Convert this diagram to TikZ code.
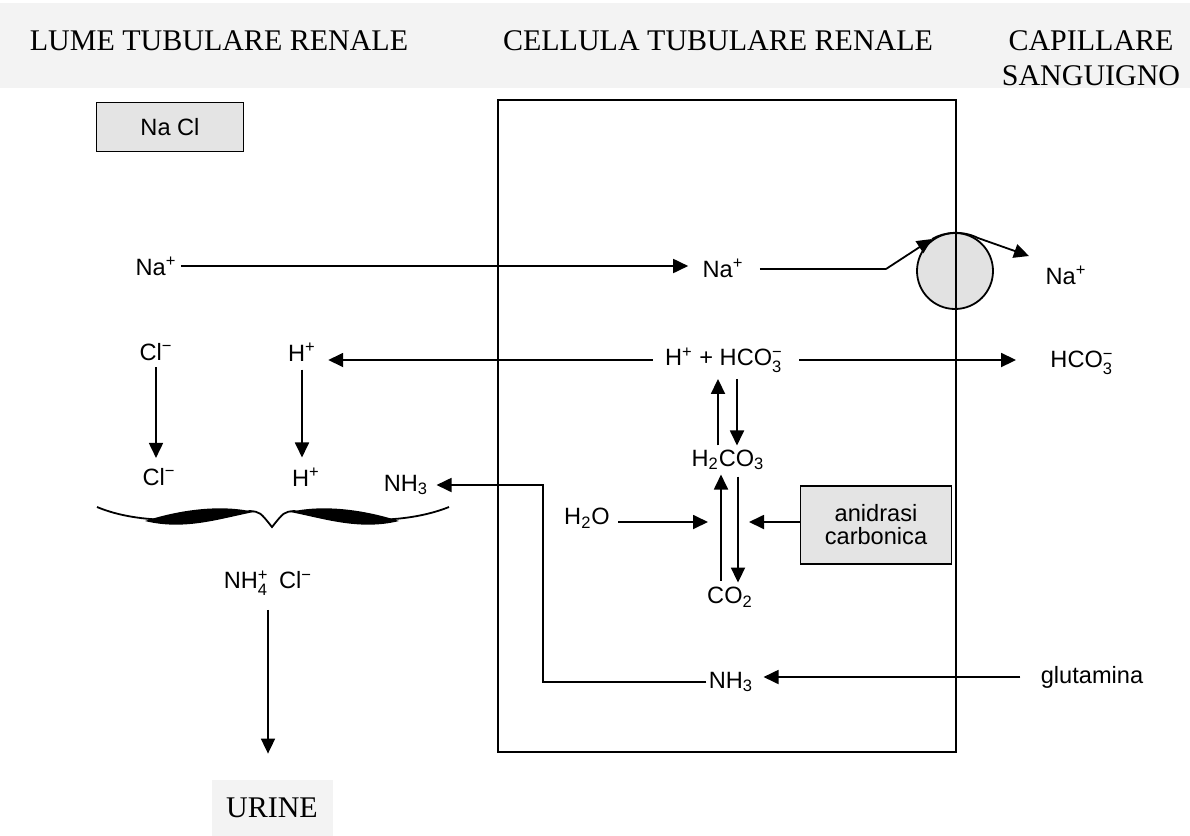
\documentclass[tikz,border=0pt]{standalone}
\usepackage{fontspec}
\usepackage{amsmath}
\usepackage{tikz}
\usetikzlibrary{arrows.meta,positioning,calc}
\setmainfont{Liberation Sans}
\newfontfamily\headfont{Liberation Serif}
\definecolor{bandGray}{RGB}{243,243,243}
\definecolor{boxGray}{RGB}{228,228,228}
\definecolor{pumpGray}{RGB}{226,226,226}
\newcommand{\lo}[1]{\textsubscript{#1}}
\newcommand{\hi}[1]{\textsuperscript{#1}}
\newcommand{\lohi}[2]{\ensuremath{{}_{\text{#1}}^{\text{#2}}}}
\newcommand{\mn}{\char"2212}

\begin{document}
\begin{tikzpicture}[x=0.5pt,y=-0.5pt,
  lab/.style={font=\fontsize{11.8}{13.5}\selectfont, inner sep=1pt},
  head/.style={font=\headfont\fontsize{15}{18}\selectfont, inner sep=0pt, anchor=base},
  graybox/.style={lab, draw, line width=0.9pt, fill=boxGray, align=center},
  flow/.style={line width=0.9pt, -{Triangle[length=7.5pt,width=7pt]}},
  wire/.style={line width=0.9pt}]
\useasboundingbox (0,0) rectangle (1190,836);
\fill[bandGray] (0,3) rectangle (1190,88);
\node[head] (hlumen) at (219,50) {LUME TUBULARE RENALE};
\node[head] (hcell) at (718,50) {CELLULA TUBULARE RENALE};
\node[head] (hcap) at (1091,50) {CAPILLARE};
\node[head] (hcap2) at (1091,85) {SANGUIGNO};
\node[head, anchor=center, fill=bandGray, minimum width=60.5pt, minimum height=28pt] (urine) at (272,808) {URINE};
\node[draw, circle, fill=pumpGray, line width=0.9pt, minimum size=38pt, inner sep=0pt] (pump) at (955,271) {};
\draw[line width=1pt] (498,100) rectangle (956,752);
\node[graybox, minimum width=73.5pt, minimum height=24.5pt] (nacl) at (170,127) {Na Cl};
\node[graybox, minimum width=75.5pt, minimum height=39pt, inner sep=0pt] (carb) at (876,525) {anidrasi\\[-2pt]carbonica};
\node[lab] (naL) at (156,266) {Na\hi{+}};
\node[lab] (naC) at (723,268) {Na\hi{+}};
\node[lab] (naB) at (1066,275) {Na\hi{+}};
\node[lab] (clL) at (156,352) {Cl\hi{\mn}};
\node[lab] (hL) at (302,352) {H\hi{+}};
\node[lab] (hco) at (725,360) {H\hi{+} + HCO\lohi{3}{\mn}\kern1pt};
\node[lab] (hcoB) at (1083,363) {HCO\lohi{3}{\mn}\kern1pt};
\node[lab] (clL2) at (159,477) {Cl\hi{\mn}};
\node[lab] (hL2) at (306,477) {H\hi{+}};
\node[lab] (nhL) at (406,485) {NH\lo{3}};
\node[lab] (h2co3) at (728,460) {H\lo{2}CO\lo{3}};
\node[lab] (h2o) at (587,518) {H\lo{2}O};
\node[lab] (co2) at (730,597) {CO\lo{2}};
\node[lab] (nhC) at (731,682) {NH\lo{3}};
\node[lab] (glut) at (1092,677) {glutamina};
\node[lab] (nh4) at (268,583) {NH\lohi{4}{+}\kern2pt{} Cl\hi{\mn}};
\coordinate (kink) at (886,269);
\coordinate (pumpin) at (932,239);
\coordinate (pumpout) at (1029,256);
\coordinate (eqL) at (708,522);
\coordinate (eqR) at (749,522);
\coordinate (nhbend) at (543,485);
\draw[flow, shorten <=1pt, shorten >=6pt] (naL.east) -- (naL.east -| naC.west);
\draw[wire, shorten <=7pt] (naC.east |- kink) -- (kink);
\draw[flow] (kink) -- (pumpin);
\draw[flow] (pumpin) .. controls (944,232) and (962,230) .. (978,238) -- (pumpout);
\draw[flow, shorten <=5pt, shorten >=5pt] (hco.west) -- (hco.west -| hL.east);
\draw[flow, shorten <=6pt, shorten >=16pt] (hco.east) -- (hco.east -| hcoB.west);
\draw[flow, shorten <=2pt, shorten >=4pt] (clL.south) -- (clL.south |- clL2.north);
\draw[flow, shorten <=3pt, shorten >=4pt] (hL.south) -- (hL.south |- hL2.north);
\draw[flow, shorten <=1pt, shorten >=2pt] ([xshift=-5pt]h2co3.north) -- ([xshift=-5pt]h2co3.north |- hco.south);
\draw[flow, shorten <=2pt, shorten >=1pt] ([xshift=4.5pt]h2co3.north |- hco.south) -- ([xshift=4.5pt]h2co3.north);
\draw[flow, shorten <=2pt, shorten >=1pt] ([xshift=-4.5pt]co2.north) -- ([xshift=-4.5pt]co2.north |- h2co3.south);
\draw[flow, shorten <=2pt, shorten >=1pt] ([xshift=4pt]co2.north |- h2co3.south) -- ([xshift=4pt]co2.north);
\draw[flow, shorten <=3pt] (h2o.east |- eqL) -- (eqL);
\draw[flow] (carb.west |- eqR) -- (eqR);
\draw[flow, shorten <=9pt, shorten >=4pt] (glut.west) -- (glut.west -| nhC.east);
\draw[flow, shorten >=3pt] (nhC.west) -| (nhbend) -- (nhbend -| nhL.east);
\draw[flow, shorten <=6pt, shorten >=13pt] (nh4.south) -- (nh4.south |- urine.north);
\draw[wire] (97,507) .. controls (140,525) and (200,522) .. (250,511) .. controls (260,512) .. (272,527) .. controls (284,512) .. (294,511) .. controls (344,522) and (404,525) .. (449,507);
\fill (145,521) .. controls (185,508) and (225,505) .. (254,512) .. controls (222,518) and (185,531) .. (145,521) -- cycle;
\fill (399,521) .. controls (359,508) and (319,505) .. (290,512) .. controls (322,518) and (359,531) .. (399,521) -- cycle;
\end{tikzpicture}
\end{document}
